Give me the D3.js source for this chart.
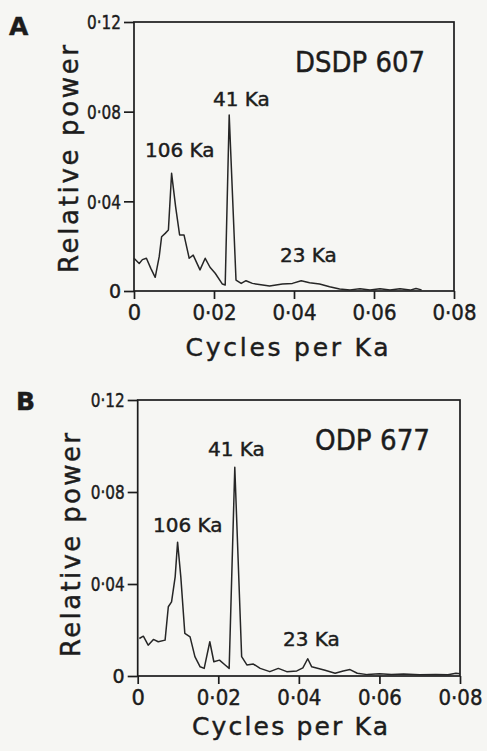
<!DOCTYPE html>
<html>
<head>
<meta charset="utf-8">
<script src="https://cdn.jsdelivr.net/npm/d3@7"></script>
<style>
  html, body { margin: 0; padding: 0; background: #f6f6f3; }
  svg { display: block; }
  text { font-family: "DejaVu Sans", sans-serif; fill: #1c1c1c; stroke: #1c1c1c; stroke-width: 0.45; }
</style>
</head>
<body>
<svg id="chart" width="487" height="751"></svg>
<script>
// ---- Data ----
const xTicks = [0, 0.02, 0.04, 0.06, 0.08];
const yTicks = [0, 0.04, 0.08, 0.12];

const freqA = [0.0000, 0.0013, 0.0021, 0.0031, 0.0042, 0.0053, 0.0063, 0.0069, 0.0078, 0.0086,
  0.0094, 0.0104, 0.0114, 0.0125, 0.0138, 0.0148, 0.0165, 0.0178, 0.0190, 0.0203,
  0.0221, 0.0228, 0.0238, 0.0255, 0.0268, 0.0280, 0.0296, 0.0313, 0.0339, 0.0371,
  0.0396, 0.0418, 0.0439, 0.0464, 0.0489, 0.0514, 0.0540, 0.0565, 0.0590, 0.0615,
  0.0640, 0.0665, 0.0690, 0.0705, 0.0719];
const powerA = [0.0146, 0.0123, 0.0140, 0.0146, 0.0101, 0.0061, 0.0153, 0.0242, 0.0257, 0.0272,
  0.0525, 0.0376, 0.0250, 0.0250, 0.0146, 0.0160, 0.0094, 0.0146, 0.0106, 0.0079,
  0.0031, 0.0027, 0.0785, 0.0049, 0.0034, 0.0046, 0.0034, 0.0029, 0.0022, 0.0031,
  0.0034, 0.0046, 0.0037, 0.0031, 0.0019, 0.0009, 0.0005, 0.0010, 0.0004, 0.0010,
  0.0004, 0.0010, 0.0004, 0.0011, 0.0005];

const freqB = [0.0004, 0.0014, 0.0026, 0.0039, 0.0051, 0.0068, 0.0076, 0.0084, 0.0093, 0.0099,
  0.0107, 0.0117, 0.0130, 0.0142, 0.0155, 0.0165, 0.0179, 0.0189, 0.0203, 0.0217,
  0.0227, 0.0241, 0.0258, 0.0271, 0.0287, 0.0304, 0.0328, 0.0349, 0.0370, 0.0395,
  0.0410, 0.0422, 0.0432, 0.0465, 0.0490, 0.0510, 0.0527, 0.0545, 0.0570, 0.0600,
  0.0630, 0.0660, 0.0700, 0.0740, 0.0770, 0.0790, 0.0800];
const powerB = [0.0163, 0.0173, 0.0134, 0.0159, 0.0149, 0.0156, 0.0301, 0.0322, 0.0431, 0.0582,
  0.0431, 0.0185, 0.0170, 0.0084, 0.0040, 0.0033, 0.0149, 0.0062, 0.0069, 0.0048,
  0.0033, 0.0908, 0.0084, 0.0048, 0.0052, 0.0033, 0.0019, 0.0033, 0.0019, 0.0022,
  0.0035, 0.0075, 0.0040, 0.0025, 0.0012, 0.0022, 0.0028, 0.0012, 0.0006, 0.0010,
  0.0006, 0.0009, 0.0005, 0.0007, 0.0005, 0.0012, 0.0010];

const peakLabelsA = ["106 Ka", "41 Ka", "23 Ka"];
const peakLabelsB = ["106 Ka", "41 Ka", "23 Ka"];

// ---- Drawing ----
const svg = d3.select("#chart");
const ink = "#1c1c1c";
const fmt = d => d === 0 ? "0" : d3.format(".2f")(d).replace(".", "\u00B7");

function panel(cfg) {
  const x = d3.scaleLinear().domain([0, 0.08]).range([cfg.left, cfg.right]);
  const y = d3.scaleLinear().domain([0, 0.12]).range([cfg.bottom, cfg.top]);
  const g = svg.append("g");

  // frame
  g.append("rect")
    .attr("x", cfg.left).attr("y", cfg.top)
    .attr("width", cfg.right - cfg.left).attr("height", cfg.bottom - cfg.top)
    .attr("fill", "none").attr("stroke", ink).attr("stroke-width", 1.7);

  const yAxis = g.append("g")
    .attr("transform", `translate(${cfg.left},0)`)
    .call(d3.axisLeft(y).tickValues(yTicks).tickFormat(fmt).tickSize(10).tickPadding(3));
  const xAxis = g.append("g")
    .attr("transform", `translate(0,${cfg.bottom})`)
    .call(d3.axisBottom(x).tickValues(xTicks).tickFormat(fmt).tickSize(8).tickPadding(6));
  [yAxis, xAxis].forEach(a => {
    a.select(".domain").remove();
    a.selectAll("line").attr("stroke", ink).attr("stroke-width", 1.7);
    a.selectAll("text").attr("fill", ink)
      .style("font-family", "DejaVu Sans, sans-serif");
  });
  yAxis.selectAll("text").attr("font-size", 19).attr("dy", "0.36em")
    .each(function(d) { if (d !== 0) d3.select(this).attr("textLength", 34).attr("lengthAdjust", "spacingAndGlyphs"); });
  xAxis.selectAll("text").attr("font-size", 21)
    .each(function(d) { if (d !== 0) d3.select(this).attr("textLength", 44).attr("lengthAdjust", "spacingAndGlyphs"); });

  // spectrum
  const pts = cfg.freq.map((f, i) => [f, cfg.power[i]]);
  g.append("path")
    .datum(pts)
    .attr("d", d3.line().x(d => x(d[0])).y(d => y(d[1])))
    .attr("fill", "none").attr("stroke", "#262626").attr("stroke-width", 1.5)
    .attr("stroke-linejoin", "round");

  // peak labels
  cfg.peaks.forEach(p => {
    g.append("text").attr("x", p.x).attr("y", p.y)
      .attr("font-size", 20).text(p.t);
  });

  // site label
  g.append("text").attr("x", cfg.site.x).attr("y", cfg.site.y)
    .attr("font-size", 29).attr("textLength", cfg.site.w).attr("lengthAdjust", "spacingAndGlyphs")
    .text(cfg.site.t);

  // panel letter
  g.append("text").attr("x", cfg.letter.x).attr("y", cfg.letter.y)
    .attr("font-size", 25).attr("font-weight", "bold").text(cfg.letter.t);

  // axis titles
  g.append("text")
    .attr("x", cfg.xt.cx).attr("y", cfg.xt.y)
    .attr("text-anchor", "middle").attr("font-size", 25)
    .attr("textLength", cfg.xt.w).attr("lengthAdjust", "spacing")
    .text("Cycles per Ka");
  g.append("text")
    .attr("transform", `translate(${cfg.yt.x},${cfg.yt.cy}) rotate(-90)`)
    .attr("text-anchor", "middle").attr("font-size", 26)
    .attr("textLength", cfg.yt.w).attr("lengthAdjust", "spacing")
    .text("Relative power");
}

panel({
  left: 134, right: 454, top: 22, bottom: 291,
  freq: freqA, power: powerA,
  peaks: [
    { t: peakLabelsA[0], x: 145, y: 157 },
    { t: peakLabelsA[1], x: 213, y: 106 },
    { t: peakLabelsA[2], x: 280, y: 262 }
  ],
  site: { t: "DSDP 607", x: 295, y: 72, w: 130 },
  letter: { t: "A", x: 9, y: 35 },
  xt: { cx: 287, y: 356, w: 203 },
  yt: { x: 78, cy: 159, w: 228 }
});

panel({
  left: 137.7, right: 460, top: 400, bottom: 676,
  freq: freqB, power: powerB,
  peaks: [
    { t: peakLabelsB[0], x: 153, y: 532 },
    { t: peakLabelsB[1], x: 208, y: 456 },
    { t: peakLabelsB[2], x: 283, y: 646 }
  ],
  site: { t: "ODP 677", x: 315, y: 450, w: 115 },
  letter: { t: "B", x: 16, y: 410 },
  xt: { cx: 290, y: 735, w: 196 },
  yt: { x: 80, cy: 545, w: 224 }
});
</script>
</body>
</html>
